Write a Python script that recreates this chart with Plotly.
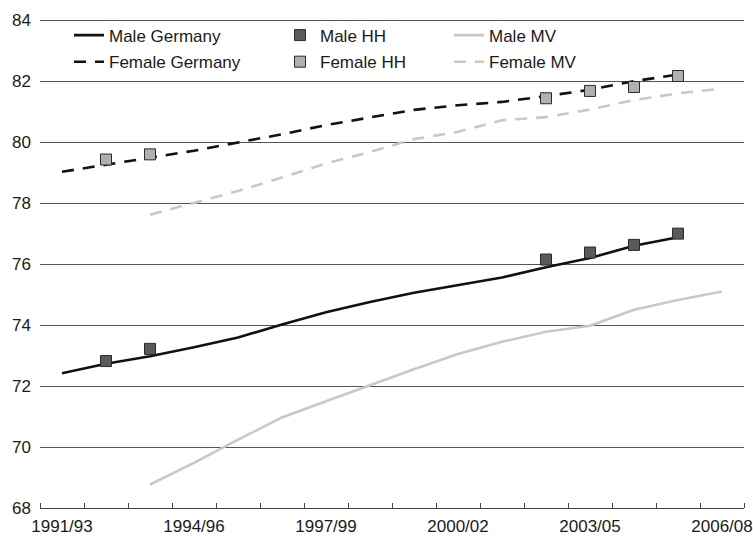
import plotly.graph_objects as go

periods = ["1991/93", "1992/94", "1993/95", "1994/96", "1995/97", "1996/98",
           "1997/99", "1998/00", "1999/01", "2000/02", "2001/03", "2002/04",
           "2003/05", "2004/06", "2005/07", "2006/08"]
x_idx = list(range(len(periods)))
tick_idx = x_idx[::3]
tick_labels = periods[::3]

male_germany = [72.42, 72.73, 72.98, 73.27, 73.59, 74.02, 74.42, 74.76, 75.06, 75.32,
                75.56, 75.90, 76.20, 76.60, 76.88, None]
female_germany = [79.03, 79.27, 79.49, 79.72, 79.98, 80.26, 80.56, 80.81, 81.06, 81.21,
                  81.32, 81.51, 81.72, 82.00, 82.22, None]
male_mv = [None, None, 68.77, 69.48, 70.24, 70.97, 71.50, 72.03, 72.55, 73.05,
           73.45, 73.78, 73.98, 74.50, 74.82, 75.10]
female_mv = [None, None, 77.62, 78.00, 78.40, 78.84, 79.30, 79.68, 80.10, 80.34,
             80.72, 80.82, 81.07, 81.38, 81.60, 81.76]
male_hh = [None, 72.82, 73.22, None, None, None, None, None, None, None,
           None, 76.15, 76.38, 76.63, 77.00, None]
female_hh = [None, 79.43, 79.60, None, None, None, None, None, None, None,
             None, 81.44, 81.68, 81.81, 82.17, None]

FONT = "Liberation Sans, Arial, Helvetica, sans-serif"
LIGHT = "#c8c8c8"

fig = go.Figure()
fig.add_trace(go.Scatter(x=x_idx, y=male_germany, mode="lines", name="Male Germany",
                         line=dict(color="#111111", width=2.6), legend="legend",
                         legendgroup="mg"))
fig.add_trace(go.Scatter(x=x_idx, y=female_germany, mode="lines", name="Female Germany",
                         line=dict(color="#111111", width=2.6, dash="12px,9px"),
                         legend="legend", legendgroup="fg"))
fig.add_trace(go.Scatter(x=x_idx, y=male_mv, mode="lines", name="Male MV",
                         line=dict(color=LIGHT, width=2.6), legend="legend3",
                         legendgroup="mm"))
fig.add_trace(go.Scatter(x=x_idx, y=female_mv, mode="lines", name="Female MV",
                         line=dict(color=LIGHT, width=2.6, dash="12px,9px"),
                         legend="legend3", legendgroup="fm"))
fig.add_trace(go.Scatter(x=x_idx, y=male_hh, mode="markers", name="Male HH",
                         marker=dict(symbol="square", size=11, color="#5a5a5a",
                                     line=dict(color="#2a2a2a", width=1)),
                         legend="legend2", legendgroup="mh"))
fig.add_trace(go.Scatter(x=x_idx, y=female_hh, mode="markers", name="Female HH",
                         marker=dict(symbol="square", size=11, color="#b0b0b0",
                                     line=dict(color="#2a2a2a", width=1)),
                         legend="legend2", legendgroup="fh"))

W, H = 753, 536
ML, MR, MT, MB = 40, 9, 19, 28
pw = W - ML - MR

def lx(px):
    return (px - ML) / pw

leg_common = dict(bgcolor="rgba(0,0,0,0)", borderwidth=0, orientation="v",
                  font=dict(family=FONT, size=17, color="#1a1a1a"),
                  yanchor="top", y=1.003, xanchor="left", traceorder="grouped",
                  tracegroupgap=1.5)

fig.update_layout(
    width=W, height=H,
    margin=dict(l=ML, r=MR, t=MT, b=MB, autoexpand=False),
    paper_bgcolor="white", plot_bgcolor="white",
    font=dict(family=FONT, size=17, color="#1a1a1a"),
    legend=dict(x=lx(69), **leg_common),
    legend2=dict(x=lx(280), **leg_common),
    legend3=dict(x=lx(449), **leg_common),
    xaxis=dict(range=[-0.5, 15.5], tickmode="array", tickvals=tick_idx, ticktext=tick_labels,
               ticks="", showgrid=False, zeroline=False, showline=True, automargin=False,
               linecolor="#444444", linewidth=1, ticklabelstandoff=3,
               minor=dict(tickmode="array", tickvals=[i - 0.5 for i in range(len(periods) + 1)],
                          ticks="inside", ticklen=5, tickcolor="#444444", tickwidth=1,
                          showgrid=False),
               tickfont=dict(family=FONT, size=17, color="#1a1a1a")),
    yaxis=dict(range=[68, 84.04], tickmode="linear", tick0=68, dtick=2, ticks="",
               showgrid=True, gridcolor="#555555", gridwidth=1, zeroline=False,
               showline=False, ticklabelstandoff=8, automargin=False,
               tickfont=dict(family=FONT, size=17, color="#1a1a1a")),
)

fig.write_html("out.html", config={"displayModeBar": False},
               post_script="document.body.style.margin='0';"
                           "document.documentElement.style.overflow='hidden';")
